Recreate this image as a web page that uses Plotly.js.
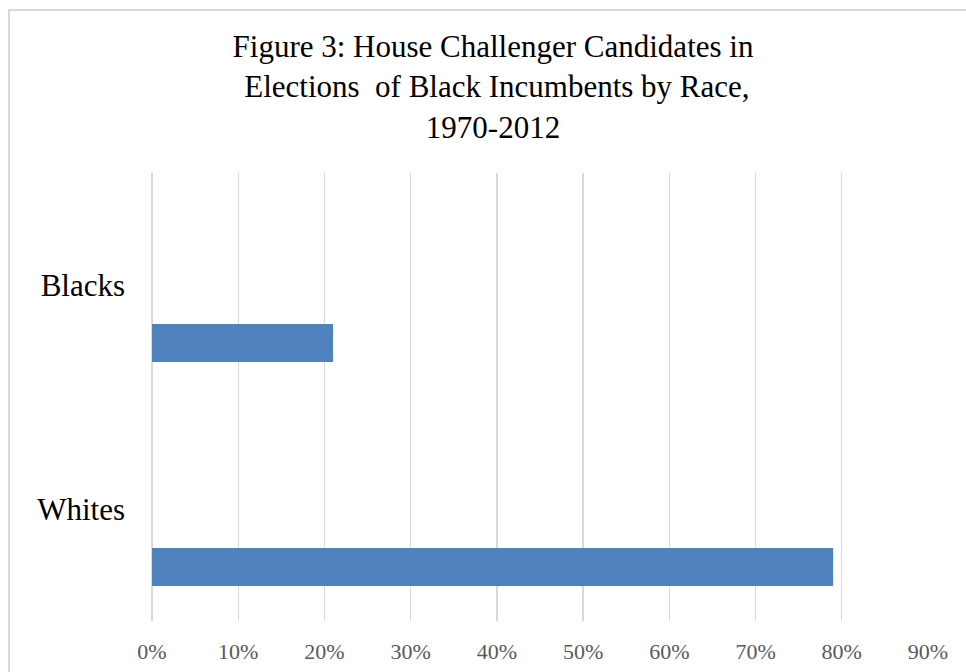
<!DOCTYPE html>
<html>
<head>
<meta charset="utf-8">
<script src="https://cdn.plot.ly/plotly-3.0.1.min.js"></script>
<style>html,body{margin:0;padding:0;background:#fff;}#chart{width:966px;height:672px;}</style>
</head>
<body>
<div id="chart"></div>
<script>
var categories = ["Whites", "Blacks"];
var shares = [0.79, 0.21];
var titleText = "Figure 3: House Challenger Candidates in<br> Elections  of Black Incumbents by Race,<br>1970-2012";

var trace = {
  type: "bar",
  orientation: "h",
  y: categories,
  x: shares,
  width: 0.17,
  offset: -0.344,
  marker: {color: "#4f81bd", line: {width: 0}},
  hoverinfo: "x+y"
};

var layout = {
  width: 966,
  height: 672,
  paper_bgcolor: "#ffffff",
  plot_bgcolor: "#ffffff",
  margin: {l: 152, r: 38, t: 173, b: 51},
  showlegend: false,
  font: {family: "Liberation Serif, Times New Roman, serif", color: "#000000"},
  title: {
    text: titleText,
    font: {family: "Liberation Serif, Times New Roman, serif", size: 31, color: "#000000"},
    x: 493 / 966,
    xref: "container",
    xanchor: "center",
    y: 1 - 57 / 672,
    yref: "container",
    yanchor: "top"
  },
  xaxis: {
    range: [0, 0.9],
    dtick: 0.1,
    tick0: 0,
    tickformat: ".0%",
    showgrid: true,
    gridcolor: "#d9d9d9",
    gridwidth: 1.3,
    zeroline: true,
    zerolinecolor: "#d9d9d9",
    zerolinewidth: 1.3,
    showline: false,
    ticks: "",
    ticklabelstandoff: 15,
    tickfont: {family: "Liberation Serif, Times New Roman, serif", size: 22, color: "#595959"},
    fixedrange: true
  },
  yaxis: {
    type: "category",
    categoryorder: "array",
    categoryarray: categories,
    range: [-0.5, 1.5],
    showgrid: false,
    zeroline: false,
    showline: false,
    ticks: "",
    ticklabelstandoff: 26,
    tickfont: {family: "Liberation Serif, Times New Roman, serif", size: 31, color: "#000000"},
    fixedrange: true
  },
  shapes: [{
    type: "rect",
    xref: "paper", yref: "paper",
    x0: (9 - 152) / 776, x1: 1.08,
    y0: -0.25, y1: (621 - 10) / 448,
    line: {color: "#d9d9d9", width: 2},
    fillcolor: "rgba(0,0,0,0)",
    layer: "below"
  }]
};

Plotly.newPlot("chart", [trace], layout, {displayModeBar: false, staticPlot: true});
</script>
</body>
</html>
